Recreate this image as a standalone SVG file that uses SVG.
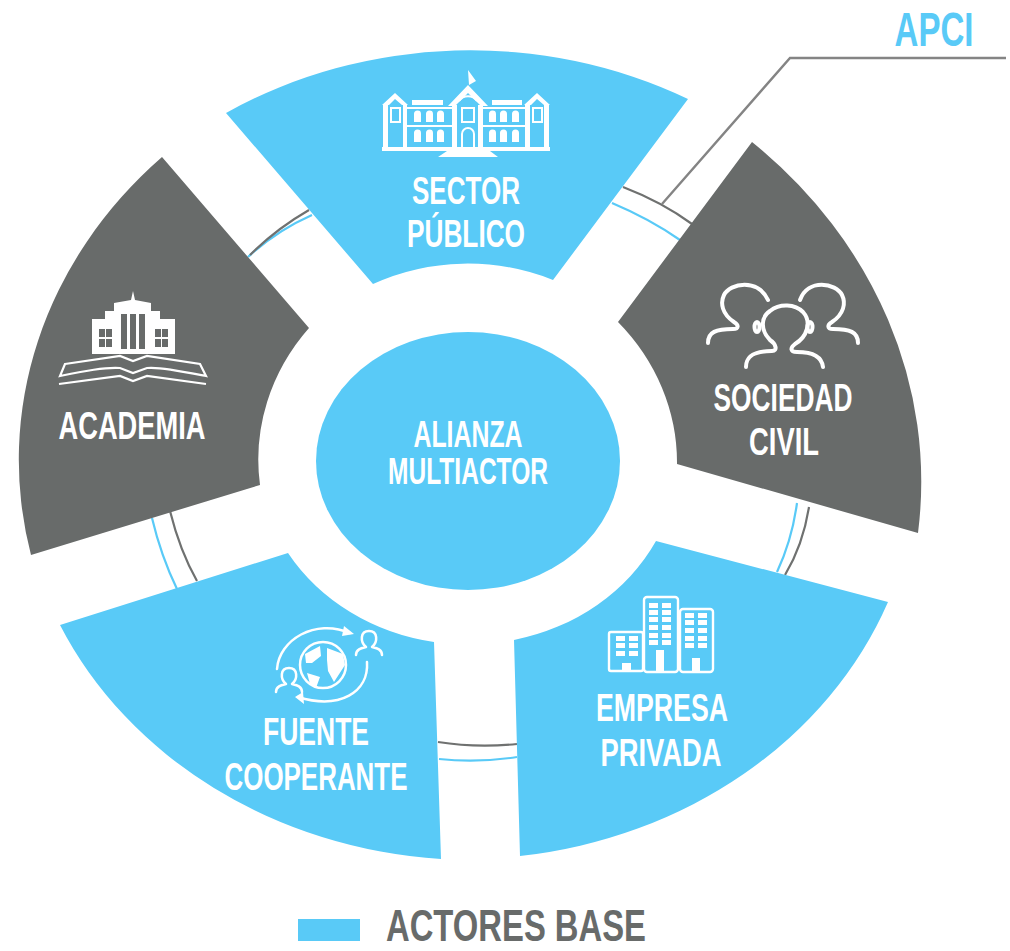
<svg xmlns="http://www.w3.org/2000/svg" width="1010" height="951" viewBox="0 0 1010 951">
<style>
.b{fill:#59caf7}.d{fill:#686b6a}
text{font-family:"Liberation Sans",Arial,sans-serif;font-weight:700;fill:#fff;text-anchor:middle;font-size:39px}
.ln{fill:none;stroke-width:2.2}
.dk{stroke:#6f7170}.bl{stroke:#59caf7}
.ic{fill:none;stroke:#fff;stroke-linecap:round;stroke-linejoin:round}
.w{fill:#fff}
</style>
<rect width="1010" height="951" fill="#fff"/>
<g id="connectors">
<path class="ln bl" d="M248 257Q276 231 312 215"/>
<path class="ln dk" d="M250 255Q276 229 309 210"/>
<path class="ln dk" d="M623 187Q662 202 692 224"/>
<path class="ln bl" d="M612 203Q650 219 680 240"/>
<path class="ln dk" d="M170 511Q180 551 197 581"/>
<path class="ln bl" d="M152 518Q161 556 177 589"/>
<path class="ln dk" d="M438 742Q476 748 517 744"/>
<path class="ln bl" d="M439 759Q478 763 517 757"/>
<path class="ln dk" d="M809 507Q803 545 785 575"/>
<path class="ln bl" d="M797 503Q792 540 777 572"/>
<path d="M662 204L790 58H1006" fill="none" stroke="#848484" stroke-width="2.4"/>
</g>
<g id="sector-publico">
<path class="b" d="M226 113A455 400 0 0 1 688 99L553 280A210 190 0 0 0 373 284Z"/>
<g class="w">
<path d="M382 147H550V151H382ZM383 105h5v42h-5zM403 105h4v42h-4zM525 105h5v42h-5zM544 105h5v42h-5zM452 105h5v42h-5zM478 105h5v42h-5zM412 100h31v5h-31zM492 100h30v5h-30zM407 107h45v2h-45zM483 107h42v2h-42zM407 125h45v2h-45zM483 125h42v2h-42z"/>
<path d="M448 106L468 85L488 106H481L468 93L455 106ZM382 105L395 93L408 105H402L395 99L389 105ZM524 105L537 93L550 105H544L537 99L531 105ZM468 70L476 81L469 85ZM447 151H490L498 157H438Z"/>
<path d="M414 114a3.500 3.500 0 0 1 7 0v8h-7zM426 114a3.500 3.500 0 0 1 7 0v8h-7zM437 114a3.500 3.500 0 0 1 7 0v8h-7zM414 133a3.500 3.500 0 0 1 7 0v9h-7zM426 133a3.500 3.500 0 0 1 7 0v9h-7zM437 133a3.500 3.500 0 0 1 7 0v9h-7zM489 114a3.500 3.500 0 0 1 7 0v8h-7zM500 114a3.500 3.500 0 0 1 7 0v8h-7zM512 114a3.500 3.500 0 0 1 7 0v8h-7zM489 133a3.500 3.500 0 0 1 7 0v9h-7zM500 133a3.500 3.500 0 0 1 7 0v9h-7zM512 133a3.500 3.500 0 0 1 7 0v9h-7z"/>
</g>
<path d="M462 147V134a6 6 0 0 1 12 0V147M462 108h12v14h-12zM391 108h9v14h-9zM533 108h9v14h-9zM459 101a11 11 0 0 1 18 0" fill="none" stroke="#fff" stroke-width="2"/>
<text x="466" y="204" textLength="108" lengthAdjust="spacingAndGlyphs">SECTOR</text>
<text x="466" y="247" textLength="118" lengthAdjust="spacingAndGlyphs">PÚBLICO</text>
</g>
<g id="sociedad-civil">
<path class="d" d="M752 142A520 460 0 0 1 918 533L677 464A230 210 0 0 0 618 322Z"/>
<g class="ic" stroke-width="4">
<path d="M708 343C708 332 716 329 733 329C739 329 739 325 734 322C722 314 720 303 724 295C730 283 758 278 768 300"/>
<path d="M858 343C858 332 850 329 833 329C827 329 827 325 832 322C844 314 846 303 842 295C836 283 808 278 800 300"/>
<path d="M746 367C746 356 754 351 772 351C778 351 776 344 770 340C760 330 761 317 770 311C780 303 795 304 803 312C812 322 807 337 795 344C790 348 790 352 797 352C815 352 822 358 823 367"/>
<ellipse cx="757" cy="327" rx="2.500" ry="5"/>
<ellipse cx="810" cy="327" rx="2.500" ry="5"/>
</g>
<text x="783" y="411" textLength="139" lengthAdjust="spacingAndGlyphs">SOCIEDAD</text>
<text x="784" y="455" textLength="70" lengthAdjust="spacingAndGlyphs">CIVIL</text>
</g>
<g id="empresa-privada">
<path class="b" d="M656 541L888 602A455 400 0 0 1 520 856L514 640A210 190 0 0 0 656 541Z"/>
<g fill="none" stroke="#fff" stroke-width="2.400">
<rect x="609" y="632" width="34" height="39" rx="2"/>
<rect x="644" y="597" width="34" height="75" rx="3"/>
<rect x="680" y="609" width="33" height="63" rx="3"/>
</g>
<g class="w">
<path d="M616 636h9v5h-9zM629 636h9v5h-9zM616 643h9v5h-9zM629 643h9v5h-9zM616 651h9v5h-9zM629 651h9v5h-9zM622 663h9v8h-9z"/>
<path d="M649 603h9v5h-9zM662 603h9v5h-9zM649 610h9v5h-9zM662 610h9v5h-9zM649 617h9v5h-9zM662 617h9v5h-9zM649 625h9v5h-9zM662 625h9v5h-9zM649 633h9v5h-9zM662 633h9v5h-9zM649 640h9v5h-9zM662 640h9v5h-9zM656 650h8v21h-8z"/>
<path d="M685 613h9v5h-9zM698 613h9v5h-9zM685 620h9v5h-9zM698 620h9v5h-9zM685 628h9v5h-9zM698 628h9v5h-9zM685 636h9v5h-9zM698 636h9v5h-9zM685 643h9v5h-9zM698 643h9v5h-9zM692 658h8v13h-8z"/>
</g>
<text x="662" y="721" textLength="132" lengthAdjust="spacingAndGlyphs">EMPRESA</text>
<text x="661" y="766" textLength="121" lengthAdjust="spacingAndGlyphs">PRIVADA</text>
</g>
<g id="fuente-cooperante">
<path class="b" d="M288 553L60 625A455 400 0 0 0 441 859L434 642A210 190 0 0 1 288 553Z"/>
<circle cx="323" cy="665" r="23" fill="#59caf7" stroke="#fff" stroke-width="2.500"/>
<path class="w" d="M305 654L320 646L321 656L312 663L306 663ZM327 648L343 654L345 665L334 682L328 671L327 660ZM307 673L320 677L316 688L310 684Z"/>
<g class="ic" stroke-width="2.500">
<path d="M277 669C279 640 315 618 350 633"/>
<path d="M367 662C369 692 340 710 298 697"/>
<path d="M356 655C356 649 362 648 366 647C360 642 360 631 369 631C378 631 378 642 372 647C376 648 382 649 382 655"/>
<path d="M276 692C276 686 282 685 286 684C280 679 280 668 289 668C298 668 298 679 292 684C296 685 302 686 302 692"/>
</g>
<path class="w" d="M354 634L344 626L342 636ZM295 697L303 692L304 704Z"/>
<text x="316" y="745" textLength="106" lengthAdjust="spacingAndGlyphs">FUENTE</text>
<text x="316" y="790" textLength="183" lengthAdjust="spacingAndGlyphs">COOPERANTE</text>
</g>
<g id="academia">
<path class="d" d="M162 157L309 328A230 210 0 0 0 260 485L31 555A480 425 0 0 1 162 157Z"/>
<path class="w" d="M133 291L135 300L151 303V311H160V319H175V354H92V319H105V311H114V303L131 300Z"/>
<path class="d" d="M121 314h6v35h-6zM130 314h6v35h-6zM139 314h6v35h-6zM99 329h6v8h-6zM106 329h6v8h-6zM99 339h6v8h-6zM106 339h6v8h-6zM155 329h6v8h-6zM162 329h6v8h-6zM155 339h6v8h-6zM162 339h6v8h-6z"/>
<g fill="none" stroke="#fff" stroke-width="2.200">
<path d="M65 364L120 356L133 361L147 356L200 364L206 376C180 371 160 367 147 368L133 373L120 368C105 367 85 371 60 376Z"/>
<path d="M59 384L120 376L133 381L147 376L206 384"/>
</g>
<text x="132" y="439" textLength="147" lengthAdjust="spacingAndGlyphs">ACADEMIA</text>
</g>
<g id="alianza-multiactor">
<ellipse class="b" cx="468" cy="461" rx="152" ry="129"/>
<text x="468" y="447" textLength="109" lengthAdjust="spacingAndGlyphs" style="font-size:36px">ALIANZA</text>
<text x="468" y="484" textLength="160" lengthAdjust="spacingAndGlyphs" style="font-size:36px">MULTIACTOR</text>
</g>
<g id="apci">
<text x="934" y="46" textLength="79" lengthAdjust="spacingAndGlyphs" style="fill:#59caf7;font-size:48px">APCI</text>
</g>
<g id="leyenda">
<rect x="298" y="919" width="62" height="22" class="b"/>
<text x="516" y="941" textLength="260" lengthAdjust="spacingAndGlyphs" style="fill:#686b6a;font-size:44px">ACTORES BASE</text>
</g>
</svg>
